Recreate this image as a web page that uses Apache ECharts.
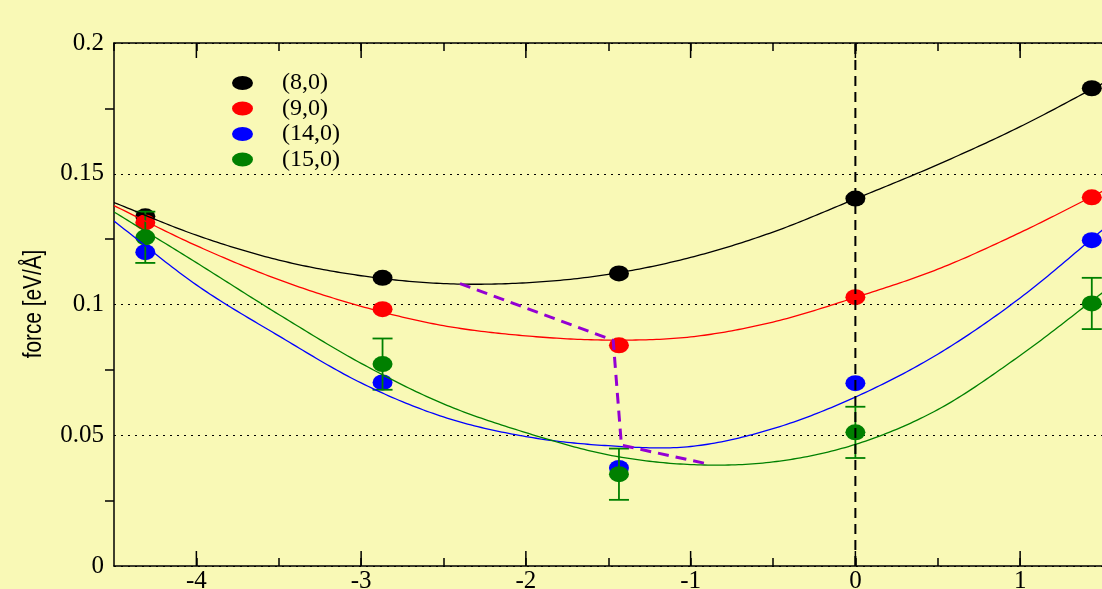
<!DOCTYPE html>
<html>
<head>
<meta charset="utf-8">
<script src="https://cdn.jsdelivr.net/npm/echarts@6/dist/echarts.min.js"></script>
<style>
  html, body { margin: 0; padding: 0; background: #f9f9b6; }
  #chart { width: 1102px; height: 589px; }
</style>
</head>
<body>
<div id="chart"></div>
<script>
// Tube types and their colours
const tubeNames = ['(8,0)', '(9,0)', '(14,0)', '(15,0)'];
const tubeColors = ['#000000', '#ff0000', '#0000ff', '#008000'];

// Computed forces at each position
const positions = [-4.31, -2.87, -1.435, 0, 1.435];
const force80 = [0.1337, 0.1102, 0.1119, 0.1405, 0.1827];
const force90 = [0.1314, 0.0982, 0.0844, 0.1028, 0.1410];
const force140 = [0.1200, 0.0702, 0.0375, 0.0699, 0.1246];
const force150 = [0.1257, 0.0772, 0.0351, 0.0511, 0.1004];
const error150 = [0.0098, 0.0098, 0.0098, 0.0098, 0.0098];

// Fitted curves, sampled along x
const fitX = [-4.5, -4, -3.5, -3, -2.5, -2, -1.5, -1, -0.5, 0, 0.5, 1, 1.5];
const fit80 = [0.1390, 0.1265, 0.1170, 0.1110, 0.1080, 0.1083, 0.1115, 0.1180, 0.1277, 0.1404, 0.1535, 0.1680, 0.1845];
const fit90 = [0.1378, 0.1225, 0.1095, 0.0993, 0.0919, 0.0880, 0.0864, 0.0876, 0.0933, 0.1027, 0.1135, 0.1275, 0.1433];
const fit140 = [0.1319, 0.1075, 0.0880, 0.0700, 0.0570, 0.0495, 0.0460, 0.0457, 0.0525, 0.0646, 0.0810, 0.1025, 0.1285];
const fit150 = [0.1354, 0.1160, 0.0962, 0.0775, 0.0620, 0.0510, 0.0425, 0.0388, 0.0398, 0.0465, 0.0598, 0.0805, 0.1045];

// Minimum path across the tube series
const pathX = [-2.40, -1.47, -1.42, -0.91];
const pathY = [0.1080, 0.0863, 0.0462, 0.0392];

// Axis ticks
const xMajorTicks = [-4, -3, -2, -1, 0, 1];
const yTickValues = [0, 0.05, 0.1, 0.15, 0.2];

const X_MIN = -4.5, X_MAX = 1.5, Y_MIN = 0, Y_MAX = 0.2;
const SERIF = '"Liberation Serif", "Times New Roman", serif';
const POINT = 'path://M0,8 A10,8 0 1,1 20,8 A10,8 0 1,1 0,8 Z';
const KEY = 'path://M0,7 A10.5,7 0 1,1 21,7 A10.5,7 0 1,1 0,7 Z';

const forces = [force80, force90, force140, force150];
const fits = [fit80, fit90, fit140, fit150];

const zip = (xs, ys) => xs.map((x, i) => [x, ys[i]]);

// Catmull-Rom spline through screen points, returned as a dense polyline
function splinePoints(pts, steps) {
  const out = [];
  const n = pts.length;
  const get = (i) => {
    if (i < 0) return [2 * pts[0][0] - pts[1][0], 2 * pts[0][1] - pts[1][1]];
    if (i >= n) return [2 * pts[n - 1][0] - pts[n - 2][0], 2 * pts[n - 1][1] - pts[n - 2][1]];
    return pts[i];
  };
  for (let i = 0; i < n - 1; i++) {
    const p0 = get(i - 1), p1 = get(i), p2 = get(i + 1), p3 = get(i + 2);
    const c1 = [p1[0] + (p2[0] - p0[0]) / 6, p1[1] + (p2[1] - p0[1]) / 6];
    const c2 = [p2[0] - (p3[0] - p1[0]) / 6, p2[1] - (p3[1] - p1[1]) / 6];
    for (let s = (i === 0 ? 0 : 1); s <= steps; s++) {
      const t = s / steps, u = 1 - t;
      const a = u * u * u, b = 3 * u * u * t, c = 3 * u * t * t, d = t * t * t;
      out.push([
        a * p1[0] + b * c1[0] + c * c2[0] + d * p2[0],
        a * p1[1] + b * c1[1] + c * c2[1] + d * p2[1]
      ]);
    }
  }
  return out;
}

const series = [];

// points
tubeNames.forEach((name, k) => {
  series.push({
    name: name,
    type: 'scatter',
    data: zip(positions, forces[k]),
    symbol: POINT,
    symbolSize: [20, 16],
    symbolKeepAspect: false,
    itemStyle: { color: tubeColors[k], opacity: 1 },
    z: 2 + k,
    silent: true
  });
});

// error bars of the (15,0) series
series.push({
  type: 'custom',
  data: positions.map((x, i) => [x, force150[i], error150[i]]),
  z: 7,
  silent: true,
  renderItem: function (params, api) {
    const x = api.value(0), y = api.value(1), e = api.value(2);
    const top = api.coord([x, y + e]);
    const bot = api.coord([x, y - e]);
    const half = 10;
    const style = { stroke: tubeColors[3], lineWidth: 1.8 };
    return {
      type: 'group',
      children: [
        { type: 'line', shape: { x1: top[0], y1: top[1], x2: bot[0], y2: bot[1] }, style: style },
        { type: 'line', shape: { x1: top[0] - half, y1: top[1], x2: top[0] + half, y2: top[1] }, style: style },
        { type: 'line', shape: { x1: bot[0] - half, y1: bot[1], x2: bot[0] + half, y2: bot[1] }, style: style }
      ]
    };
  }
});

// fitted curves: one spline per series, drawn when its first sample is rendered
tubeNames.forEach((name, k) => {
  const samples = zip(fitX, fits[k]);
  series.push({
    name: name + ' fit',
    type: 'custom',
    data: samples,
    clip: true,
    z: 10 + k,
    silent: true,
    renderItem: function (params, api) {
      if (params.dataIndex !== 0) return null;
      const screen = samples.map(p => api.coord(p));
      return {
        type: 'polyline',
        shape: { points: splinePoints(screen, 24) },
        style: { stroke: tubeColors[k], lineWidth: 1.3, fill: null }
      };
    }
  });
});

// dashed path
series.push({
  type: 'line',
  data: zip(pathX, pathY),
  showSymbol: false,
  symbol: 'none',
  lineStyle: { color: '#9400d3', width: 3, type: [11, 7] },
  z: 20,
  silent: true
});

// vertical dashed line at x = 0
series.push({
  type: 'line',
  data: [[0, Y_MIN], [0, Y_MAX]],
  showSymbol: false,
  symbol: 'none',
  lineStyle: { color: '#000000', width: 2, type: [10, 6] },
  z: 21,
  silent: true
});

// long ticks at integer x on bottom and top axes
series.push({
  type: 'custom',
  data: xMajorTicks.map(v => [v]),
  z: 30,
  silent: true,
  renderItem: function (params, api) {
    const v = api.value(0);
    const b = api.coord([v, Y_MIN]);
    const t = api.coord([v, Y_MAX]);
    const style = { stroke: '#000000', lineWidth: 1.5 };
    return {
      type: 'group',
      children: [
        { type: 'line', shape: { x1: b[0], y1: b[1], x2: b[0], y2: b[1] - 15 }, style: style },
        { type: 'line', shape: { x1: t[0], y1: t[1], x2: t[0], y2: t[1] + 15 }, style: style }
      ]
    };
  }
});

const axisLine = { show: true, onZero: false, lineStyle: { color: '#000000', width: 1.5 } };

const option = {
  backgroundColor: '#f9f9b6',
  animation: false,
  grid: { left: 114, top: 43, width: 988.5, height: 523, containLabel: false, outerBoundsMode: 'none' },
  legend: {
    data: tubeNames,
    orient: 'vertical',
    left: 232,
    top: 71,
    padding: 0,
    itemGap: 1.5,
    itemWidth: 21,
    itemHeight: 14,
    icon: KEY,
    selectedMode: false,
    textStyle: { fontFamily: SERIF, fontSize: 24, color: '#000000', lineHeight: 24, padding: [0, 0, 0, 24] }
  },
  // axis title, condensed along its length
  graphic: [{
    type: 'text',
    x: 34,
    y: 304,
    rotation: Math.PI / 2,
    scaleX: 0.8,
    silent: true,
    style: {
      text: 'force [eV/Å]',
      font: '26px "Liberation Sans", Arial, sans-serif',
      fill: '#000000',
      align: 'center',
      verticalAlign: 'middle'
    }
  }],
  xAxis: [
    {
      type: 'value', position: 'bottom', min: X_MIN, max: X_MAX, interval: 0.5,
      axisLine: axisLine,
      axisTick: { show: true, inside: true, length: 8, lineStyle: { color: '#000000', width: 1.5 } },
      splitLine: { show: false },
      axisLabel: {
        margin: 3, fontFamily: SERIF, fontSize: 25, color: '#000000',
        showMinLabel: false, showMaxLabel: false,
        formatter: function (v) { return xMajorTicks.indexOf(v) >= 0 ? String(v) : ''; }
      }
    },
    {
      type: 'value', position: 'top', min: X_MIN, max: X_MAX, interval: 0.5,
      axisLine: axisLine,
      axisTick: { show: true, inside: true, length: 8, lineStyle: { color: '#000000', width: 1.5 } },
      splitLine: { show: false },
      axisLabel: { show: false }
    }
  ],
  yAxis: [
    {
      type: 'value', position: 'left', min: Y_MIN, max: Y_MAX, interval: 0.05,
      axisLine: axisLine,
      axisTick: { show: false },
      minorTick: { show: true, splitNumber: 2, length: 9, lineStyle: { color: '#000000', width: 1.5 } },
      minorSplitLine: { show: false },
      splitLine: { show: true, lineStyle: { color: '#000000', width: 1.2, type: [2, 5] } },
      axisLabel: {
        margin: 10, fontFamily: SERIF, fontSize: 25, color: '#000000',
        formatter: function (v) { return yTickValues.indexOf(v) >= 0 ? String(v) : ''; }
      }
    },
    {
      type: 'value', position: 'right', min: Y_MIN, max: Y_MAX, interval: 0.05,
      axisLine: axisLine,
      axisTick: { show: false },
      minorTick: { show: true, splitNumber: 2, length: 9, lineStyle: { color: '#000000', width: 1.5 } },
      minorSplitLine: { show: false },
      splitLine: { show: false },
      axisLabel: { show: false }
    }
  ],
  series: series
};

const chart = echarts.init(document.getElementById('chart'), null, { renderer: 'canvas' });
chart.setOption(option);
</script>
</body>
</html>
